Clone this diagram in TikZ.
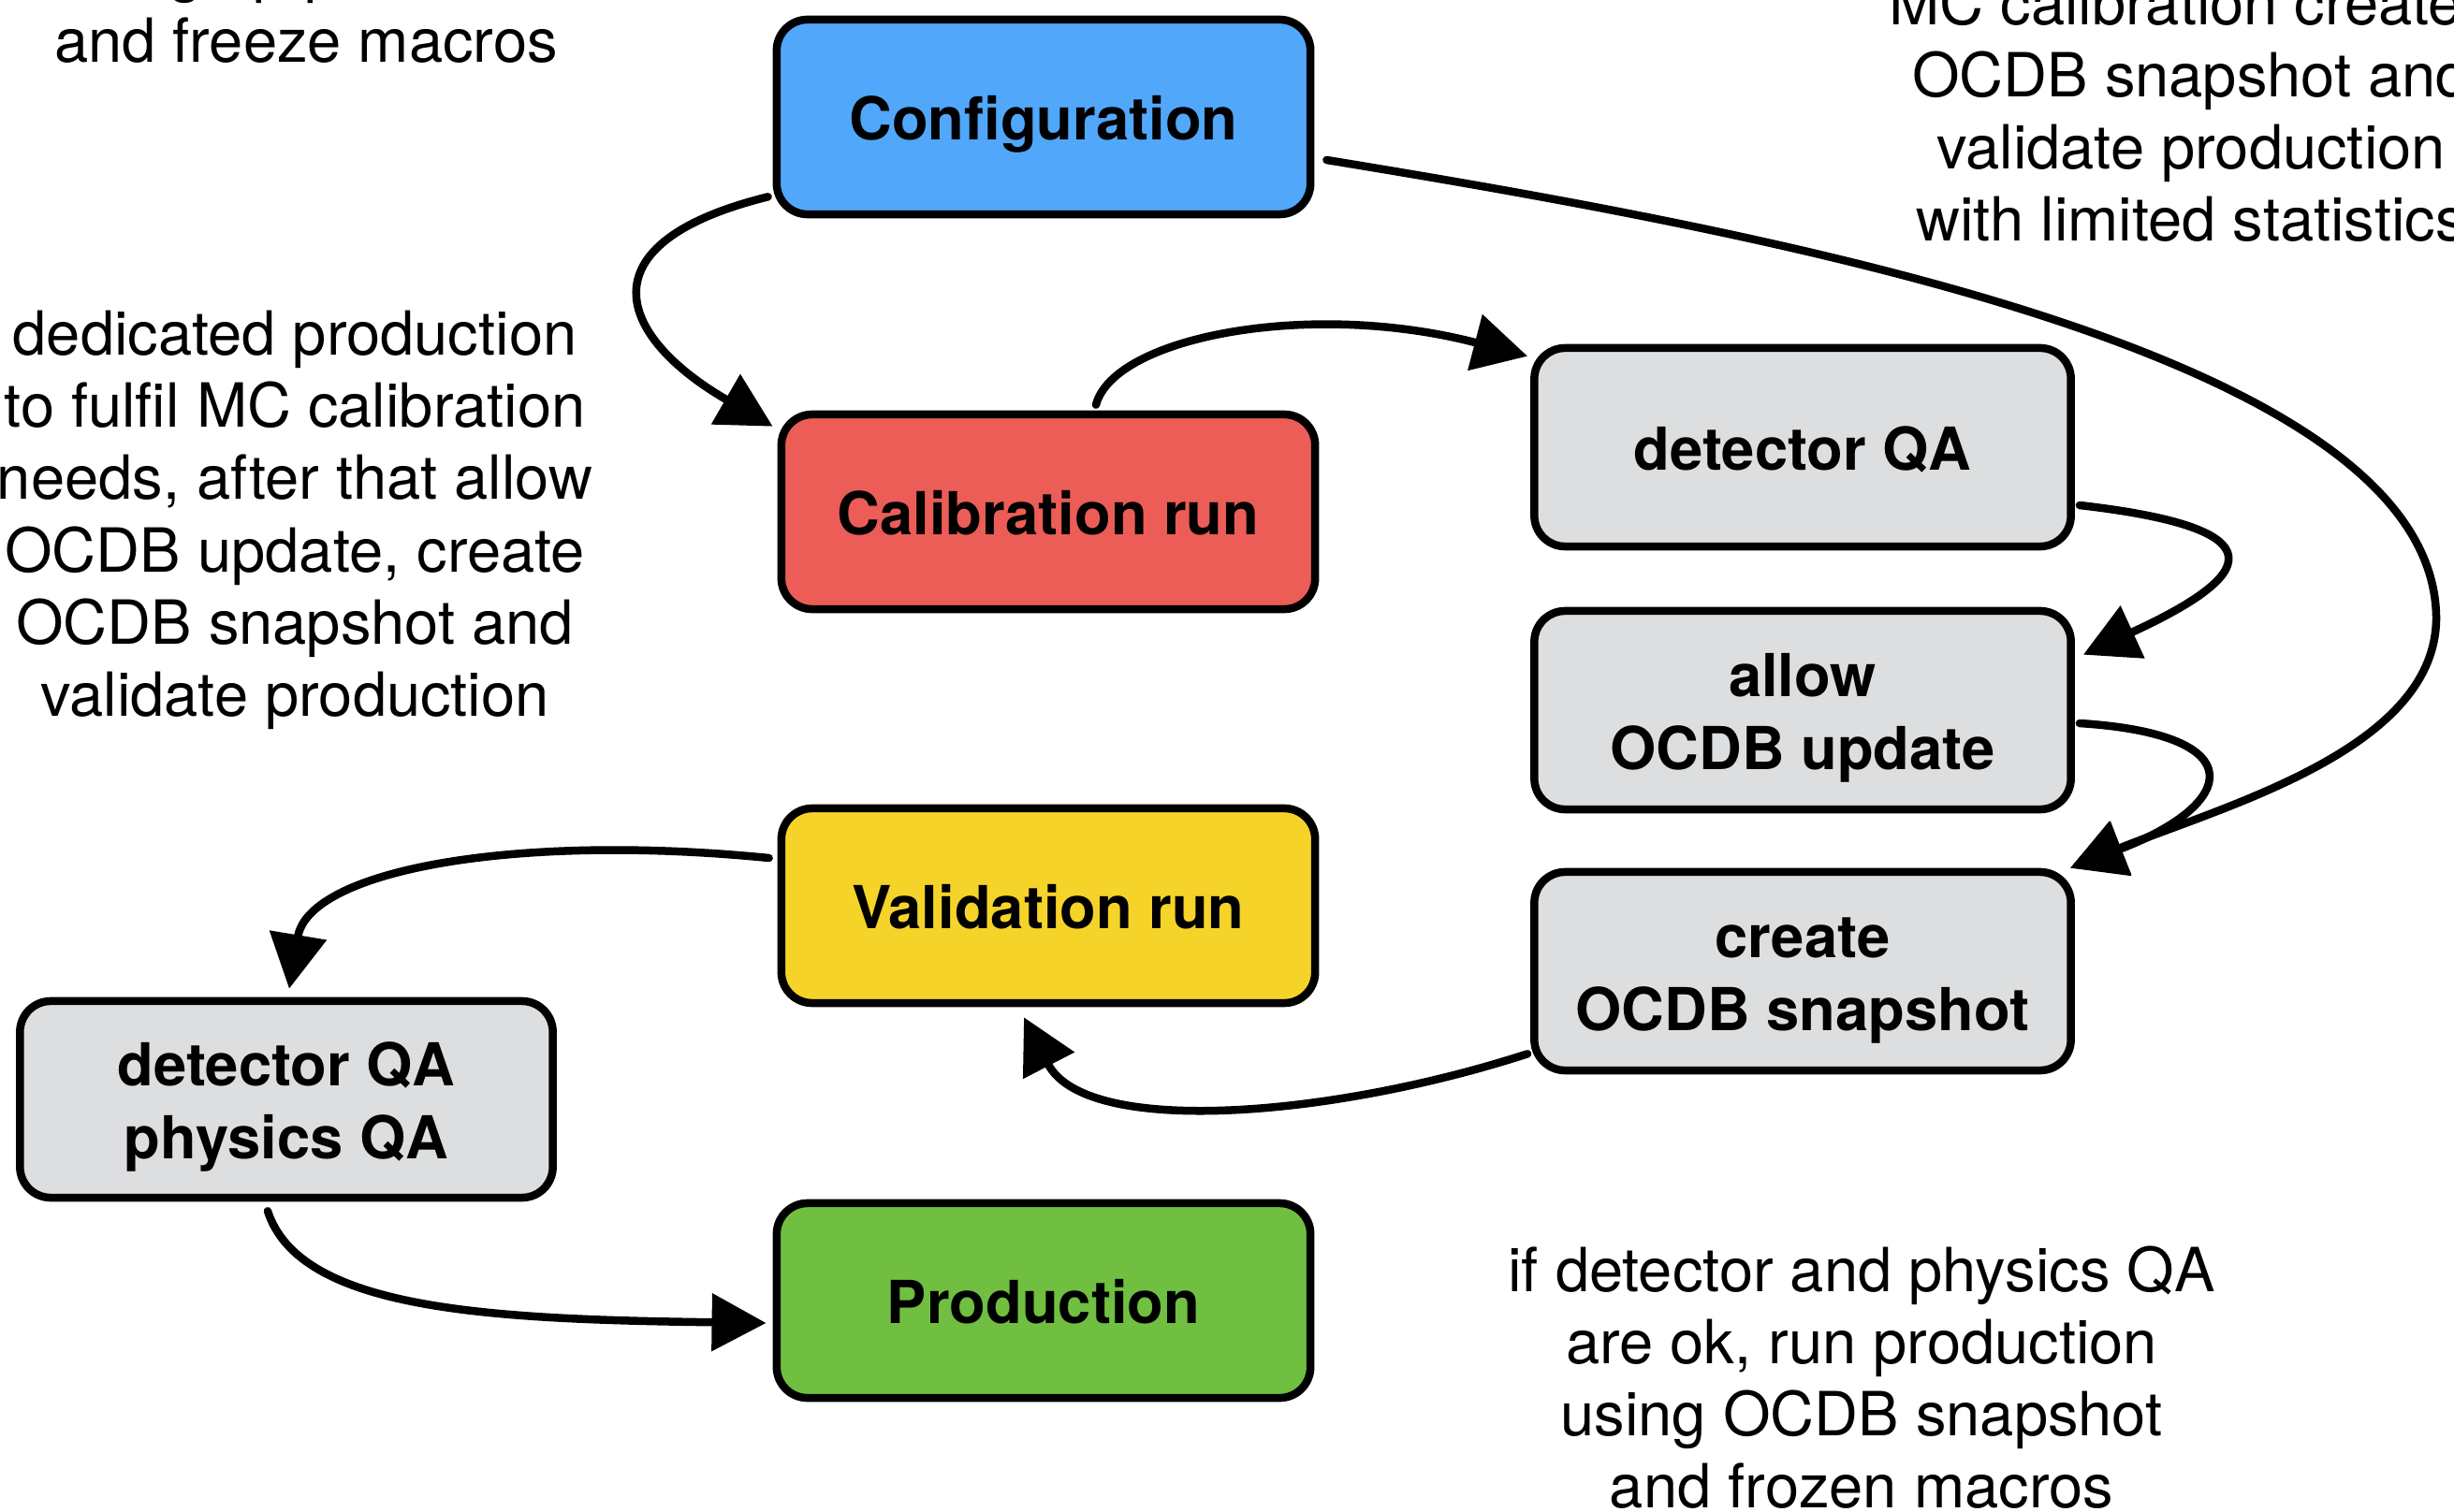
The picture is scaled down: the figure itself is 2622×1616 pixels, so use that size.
\documentclass[tikz,border=0pt]{standalone}
\usepackage{fontspec}
\setmainfont{TeX Gyre Heros}
\usetikzlibrary{arrows.meta,calc}
\definecolor{cblue}{HTML}{51A7F9}
\definecolor{cred}{HTML}{EC5D57}
\definecolor{cyellow}{HTML}{F5D328}
\definecolor{cgreen}{HTML}{70BF41}
\definecolor{cgray}{HTML}{DCDEE0}
\begin{document}
\begin{tikzpicture}[x=0.01cm,y=-0.01cm,
  box/.style={draw=black, line width=0.085cm, rounded corners=0.33cm,
    minimum width=5.70cm, minimum height=2.08cm, inner sep=0pt, align=center,
    font=\bfseries\fontsize{18}{22}\selectfont, text height=14pt, text depth=0pt},
  twoline/.style={text height=36pt, text depth=0pt},
  rbox/.style={box, minimum width=5.73cm, minimum height=2.12cm},
  note/.style={inner sep=0pt, anchor=base, font=\fontsize{18.5}{22}\selectfont},
  conn/.style={line width=0.085cm, line cap=round,
    -{Triangle[length=0.58cm,width=0.6cm]}}]
\useasboundingbox (0,0) rectangle (2622,1616);
\clip (0,0) rectangle (2622,1616);

% nodes
\node[box, fill=cblue] (conf) at (1115,125) {Configuration};
\node[box, fill=cred] (calib) at (1120,547) {Calibration run};
\node[box, fill=cyellow] (valid) at (1120,968) {Validation run};
\node[box, fill=cgreen] (prod) at (1115,1390) {Production};
\node[rbox, fill=cgray] (dqa) at (1926,478) {detector QA};
\node[rbox, twoline, fill=cgray] (allow) at (1926,759) {allow\\OCDB update};
\node[rbox, twoline, fill=cgray] (snap) at (1926,1038) {create\\OCDB snapshot};
\node[box, twoline, fill=cgray, minimum width=5.69cm, minimum height=2.10cm] (phys) at (306,1175) {detector QA\\physics QA};

% notes
\node[note] (tl1) at (327,-10) {setting up production};
\node[note] (tl2) at (327,67) {and freeze macros};

\node[note] (tr1) at (2341,27) {MC calibration creates};
\node[note] (tr2) at (2341,104) {OCDB snapshot and};
\node[note] (tr3) at (2341,181) {validate production};
\node[note] (tr4) at (2341,258) {with limited statistics};

\node[note] (lm1) at (315,380) {dedicated production};
\node[note] (lm2) at (315,457) {to fulfil MC calibration};
\node[note] (lm3) at (315,534) {needs, after that allow};
\node[note] (lm4) at (315,611) {OCDB update, create};
\node[note] (lm5) at (315,688) {OCDB snapshot and};
\node[note] (lm6) at (315,765) {validate production};

\node[note] (br1) at (1989,1380) {if detector and physics QA};
\node[note] (br2) at (1989,1457) {are ok, run production};
\node[note] (br3) at (1989,1534) {using OCDB snapshot};
\node[note] (br4) at (1989,1611) {and frozen macros};

% connectors
\draw[conn] ($(conf.south west)+(-5,-23)$) .. controls (620,260) and (660,360) .. ($(calib.north west)+(-5,17)$);
\draw[conn] ($(calib.north)+(51,-6)$) .. controls (1190,360) and (1400,320) .. ($(dqa.north west)+(-3,13)$);
\draw[conn] ($(conf.east)+(13,46)$) .. controls (1900,250) and (2600,380) .. (2603,660)
   .. controls (2603,800) and (2380,860) .. ($(snap.north east)+(-5,0)$);
\draw[conn] ($(dqa.east)+(5,62)$) .. controls (2440,565) and (2410,615) .. ($(allow.north east)+(9,51)$);
\draw[conn] ($(allow.east)+(5,14)$) .. controls (2410,785) and (2390,860) .. ($(snap.north east)+(-5,0)$);
\draw[conn] ($(snap.south west)+(-3,-22)$) .. controls (1420,1195) and (1160,1215) .. ($(valid.south)+(-26,11)$);
\draw[conn] ($(valid.west)+(-9,-51)$) .. controls (550,890) and (330,930) .. ($(phys.north)+(3,-9)$);
\draw[conn] ($(phys.south)+(-20,10)$) .. controls (320,1400) and (520,1410) .. ($(prod.west)+(-7,24)$);
\end{tikzpicture}
\end{document}
